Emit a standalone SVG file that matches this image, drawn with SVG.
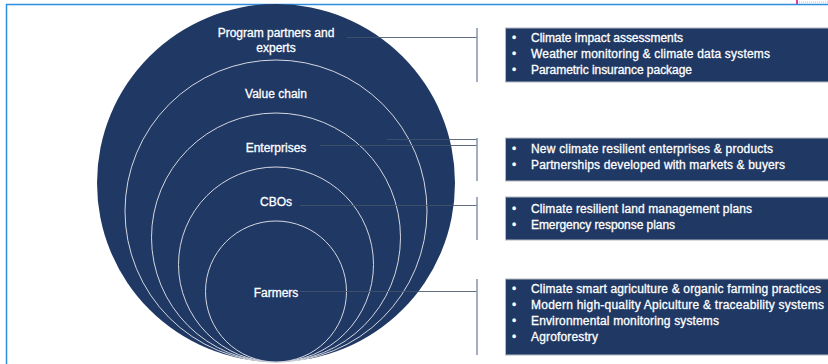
<svg xmlns="http://www.w3.org/2000/svg" width="828" height="364" viewBox="0 0 828 364">
<style>
.ring{fill:#203864;stroke:#d4d8e0;stroke-width:1}
.outer{fill:#203864}
.lbl{font-family:"Liberation Sans",Arial,sans-serif;font-size:12px;fill:#ffffff;stroke:#ffffff;stroke-width:0.3;text-anchor:middle}
.box{fill:#203864;stroke:#b4b8c0;stroke-width:1}
.txt{font-family:"Liberation Sans",Arial,sans-serif;font-size:12px;fill:#ffffff;stroke:#ffffff;stroke-width:0.3}
.conn{stroke:#44546A;stroke-width:1;fill:none;opacity:0.85}
.brk{stroke:#8593ab;stroke-width:1.5;fill:none}
</style>
<rect x="0" y="0" width="828" height="364" fill="#ffffff"/>
<g id="frame">
<line x1="6" y1="4.5" x2="828" y2="4.5" stroke="#2f8de0" stroke-width="1.5"/>
<line x1="6.5" y1="4" x2="6.5" y2="364" stroke="#2f8de0" stroke-width="1.5"/>
<rect x="796" y="0" width="2" height="4" fill="#d63cab"/>
<line x1="799" y1="2" x2="828" y2="2" stroke="#e8a0d0" stroke-width="1" stroke-dasharray="1,1"/>
</g>
<g id="node-program-partners">
<circle class="outer" cx="276" cy="183" r="179"/>
<text class="lbl" x="276" y="37">Program partners and</text>
<text class="lbl" x="276" y="51.5">experts</text>
</g>
<g id="node-value-chain">
<circle class="ring" cx="276" cy="211" r="151"/>
<text class="lbl" x="276" y="97.5">Value chain</text>
</g>
<g id="node-enterprises">
<circle class="ring" cx="276" cy="237.5" r="124.5"/>
<text class="lbl" x="276" y="151.5">Enterprises</text>
</g>
<g id="node-cbos">
<circle class="ring" cx="276" cy="264.5" r="97.5"/>
<text class="lbl" x="276" y="205.5">CBOs</text>
</g>
<g id="node-farmers">
<circle class="ring" cx="276" cy="291.5" r="70.5"/>
<text class="lbl" x="276" y="297">Farmers</text>
</g>
<g id="connectors">
<line class="conn" x1="347" y1="37.5" x2="477" y2="37.5"/>
<line class="brk" x1="477" y1="28" x2="477" y2="82"/>
<line class="conn" x1="387" y1="139.5" x2="477" y2="139.5"/>
<line class="conn" x1="320" y1="145.5" x2="477" y2="145.5"/>
<line class="brk" x1="477" y1="138" x2="477" y2="181"/>
<line class="conn" x1="300" y1="205.5" x2="477" y2="205.5"/>
<line class="brk" x1="477" y1="197" x2="477" y2="240"/>
<line class="conn" x1="300" y1="291.5" x2="477" y2="291.5"/>
<line class="brk" x1="477" y1="279" x2="477" y2="355"/>
</g>
<g id="box-program-partners">
<rect class="box" x="505.5" y="28" width="330" height="54"/>
<text class="txt" x="512" y="41.5">•</text><text class="txt" x="531" y="41.5" textLength="152">Climate impact assessments</text>
<text class="txt" x="512" y="57.5">•</text><text class="txt" x="531" y="57.5" textLength="239">Weather monitoring &amp; climate data systems</text>
<text class="txt" x="512" y="73.5">•</text><text class="txt" x="531" y="73.5" textLength="161">Parametric insurance package</text>
</g>
<g id="box-enterprises">
<rect class="box" x="505.5" y="138" width="330" height="43"/>
<text class="txt" x="512" y="153">•</text><text class="txt" x="531" y="153" textLength="242">New climate resilient enterprises &amp; products</text>
<text class="txt" x="512" y="169">•</text><text class="txt" x="531" y="169" textLength="254">Partnerships developed with markets &amp; buyers</text>
</g>
<g id="box-cbos">
<rect class="box" x="505.5" y="197" width="330" height="43"/>
<text class="txt" x="512" y="213">•</text><text class="txt" x="531" y="213" textLength="221">Climate resilient land management plans</text>
<text class="txt" x="512" y="229">•</text><text class="txt" x="531" y="229" textLength="144">Emergency response plans</text>
</g>
<g id="box-farmers">
<rect class="box" x="505.5" y="279" width="330" height="76"/>
<text class="txt" x="512" y="293">•</text><text class="txt" x="531" y="293" textLength="290">Climate smart agriculture &amp; organic farming practices</text>
<text class="txt" x="512" y="309">•</text><text class="txt" x="531" y="309" textLength="293">Modern high-quality Apiculture &amp; traceability systems</text>
<text class="txt" x="512" y="325">•</text><text class="txt" x="531" y="325" textLength="188">Environmental monitoring systems</text>
<text class="txt" x="512" y="341">•</text><text class="txt" x="531" y="341" textLength="67">Agroforestry</text>
</g>
</svg>
